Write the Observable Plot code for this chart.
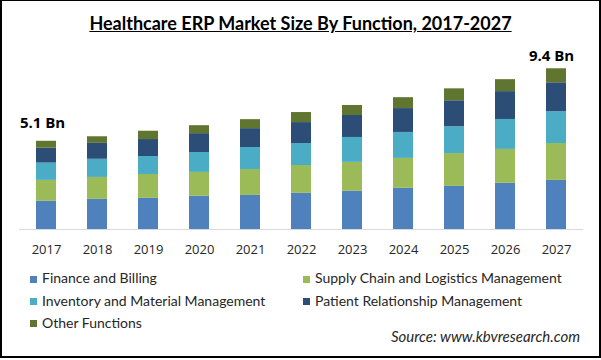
<!DOCTYPE html>
<html>
<head>
<meta charset="utf-8">
<script src="https://cdn.jsdelivr.net/npm/d3@7"></script>
<script src="https://cdn.jsdelivr.net/npm/@observablehq/plot@0.6"></script>
<style>
  html, body { margin: 0; padding: 0; background: #fff; }
  #frame { position: relative; width: 601px; height: 360px; overflow: hidden; }
  #border { position: absolute; left: 0; top: 0; width: 597px; height: 355px; border-left: 2px solid #000; border-right: 2px solid #000; border-top: 1px solid #000; border-bottom: 2px solid #000; pointer-events: none; }
  #title { position: absolute; left: 0; top: 13px; width: 601px; text-align: center; font: bold 18px/1.2 Lato, sans-serif; color: #000; text-decoration: underline; }
  #chart { position: absolute; left: 0; top: 0; }
  .lg { position: absolute; font: 14px/1.2 Lato, sans-serif; color: #262626; white-space: nowrap; }
  .sw { position: absolute; width: 7px; height: 7px; }
  #source { position: absolute; right: 21px; top: 327px; font: italic 15px/1.2 Lato, sans-serif; color: #262626; }
</style>
</head>
<body>
<div id="frame">
  <div id="title">Healthcare ERP Market Size By Function, 2017-2027</div>
  <div id="chart"></div>
  <div id="legend"></div>
  <div id="source">Source: www.kbvresearch.com</div>
  <div id="border"></div>
</div>
<script>
const years = ["2017","2018","2019","2020","2021","2022","2023","2024","2025","2026","2027"];
const seriesNames = ["Finance and Billing","Supply Chain and Logistics Management","Inventory and Material Management","Patient Relationship Management","Other Functions"];
const seriesColors = ["#4f81bd","#9bbb59","#4bacc6","#2c4d75","#5f7530"];
const financeBilling = [1.63,1.74,1.80,1.92,1.97,2.09,2.21,2.38,2.49,2.67,2.84];
const supplyChain    = [1.21,1.27,1.38,1.38,1.50,1.61,1.67,1.73,1.90,1.96,2.13];
const inventoryMgmt  = [1.00,1.05,1.04,1.15,1.27,1.27,1.44,1.50,1.55,1.73,1.84];
const patientRel     = [0.86,0.92,0.98,1.09,1.09,1.21,1.27,1.38,1.50,1.61,1.67];
const otherFunctions = [0.40,0.38,0.48,0.46,0.52,0.58,0.58,0.63,0.69,0.69,0.81];
const labelYears = ["2017","2027"];
const labelValues = [5.1, 9.4];
const labelTexts = ["5.1 Bn","9.4 Bn"];

const seriesValues = [financeBilling, supplyChain, inventoryMgmt, patientRel, otherFunctions];
const data = years.flatMap((yr, i) => seriesNames.map((s, j) => ({year: yr, series: s, value: seriesValues[j][i]})));
const labels = labelYears.map((yr, i) => ({year: yr, value: labelValues[i], text: labelTexts[i]}));

const chart = Plot.plot({
  width: 601,
  height: 260,
  marginLeft: 19,
  marginRight: 18,
  marginTop: 56,
  marginBottom: 31,
  style: {fontFamily: "'Open Sans', sans-serif", fontSize: "13px", color: "#262626", background: "transparent", overflow: "visible"},
  x: {domain: years, paddingInner: 0.6, paddingOuter: 0.3, label: null, tickSize: 0, tickPadding: 15},
  y: {domain: [0, 10], axis: null},
  color: {domain: seriesNames, range: seriesColors},
  marks: [
    Plot.barY(data, {x: "year", y: "value", fill: "series"}),
    Plot.ruleY([0], {stroke: "#d9d9d9"}),
    Plot.text(labels.slice(0, 1), {x: "year", y: "value", text: "text", dy: -18, dx: -4, fontWeight: "bold", fontSize: 15, fill: "#000"}),
    Plot.text(labels.slice(1), {x: "year", y: "value", text: "text", dy: -11, dx: -5, fontWeight: "bold", fontSize: 15, fill: "#000"})
  ]
});
document.getElementById("chart").appendChild(chart);

// legend
const legendPos = [
  {x: 30, y: 279}, {x: 303, y: 279},
  {x: 30, y: 301.5}, {x: 303, y: 301.5},
  {x: 30, y: 323.5}
];
const legend = document.getElementById("legend");
seriesNames.forEach((s, i) => {
  const p = legendPos[i];
  const sw = document.createElement("div");
  sw.className = "sw";
  sw.style.left = p.x + "px";
  sw.style.top = (p.y - 3.5) + "px";
  sw.style.background = seriesColors[i];
  legend.appendChild(sw);
  const t = document.createElement("div");
  t.className = "lg";
  t.textContent = s;
  t.style.left = (p.x + 12) + "px";
  t.style.top = (p.y - 8.8) + "px";
  legend.appendChild(t);
});
</script>
</body>
</html>
